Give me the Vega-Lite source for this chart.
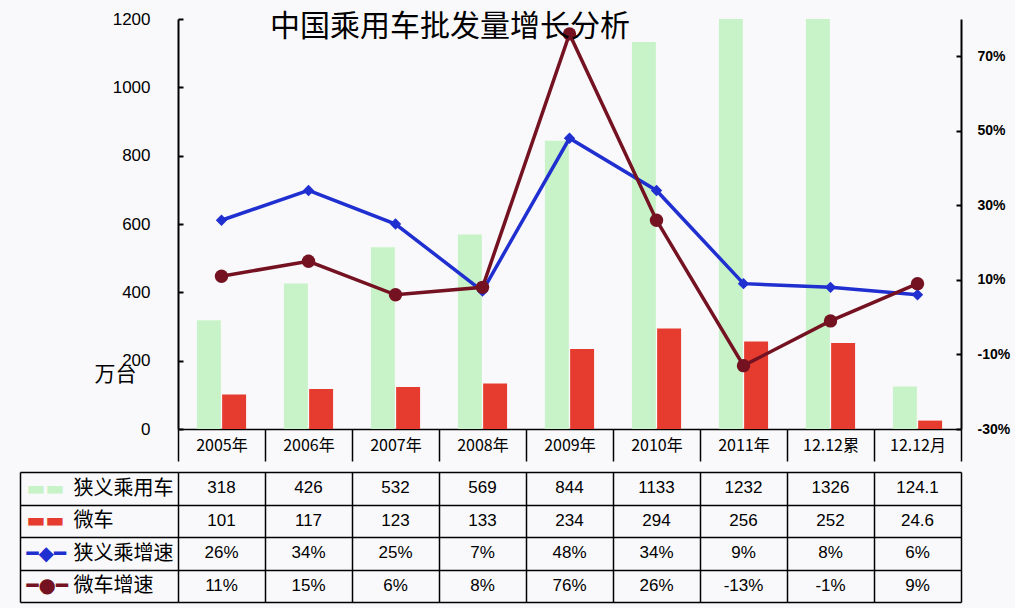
{
  "$schema": "https://vega.github.io/schema/vega-lite/v6.json",
  "background": "#f9f9fb",
  "padding": {"left": 19, "top": 10, "right": 5, "bottom": 5},
  "autosize": {"type": "pad"},
  "config": {
    "view": {"stroke": null},
    "font": "Liberation Sans",
    "locale": {"number": {"decimal": ".", "thousands": ",", "grouping": [3], "currency": ["", ""], "minus": "-"}},
    "axis": {"domainColor": "#000", "tickColor": "#000", "labelColor": "#000"}
  },
  "data": {"values": [
    {"cat": "2005年", "series": "狭义乘用车", "value": 318},
    {"cat": "2006年", "series": "狭义乘用车", "value": 426},
    {"cat": "2007年", "series": "狭义乘用车", "value": 532},
    {"cat": "2008年", "series": "狭义乘用车", "value": 569},
    {"cat": "2009年", "series": "狭义乘用车", "value": 844},
    {"cat": "2010年", "series": "狭义乘用车", "value": 1133},
    {"cat": "2011年", "series": "狭义乘用车", "value": 1232},
    {"cat": "12.12累", "series": "狭义乘用车", "value": 1326},
    {"cat": "12.12月", "series": "狭义乘用车", "value": 124.1},
    {"cat": "2005年", "series": "微车", "value": 101},
    {"cat": "2006年", "series": "微车", "value": 117},
    {"cat": "2007年", "series": "微车", "value": 123},
    {"cat": "2008年", "series": "微车", "value": 133},
    {"cat": "2009年", "series": "微车", "value": 234},
    {"cat": "2010年", "series": "微车", "value": 294},
    {"cat": "2011年", "series": "微车", "value": 256},
    {"cat": "12.12累", "series": "微车", "value": 252},
    {"cat": "12.12月", "series": "微车", "value": 24.6},
    {"cat": "2005年", "series": "狭义乘增速", "value": 0.26},
    {"cat": "2006年", "series": "狭义乘增速", "value": 0.34},
    {"cat": "2007年", "series": "狭义乘增速", "value": 0.25},
    {"cat": "2008年", "series": "狭义乘增速", "value": 0.07},
    {"cat": "2009年", "series": "狭义乘增速", "value": 0.48},
    {"cat": "2010年", "series": "狭义乘增速", "value": 0.34},
    {"cat": "2011年", "series": "狭义乘增速", "value": 0.09},
    {"cat": "12.12累", "series": "狭义乘增速", "value": 0.08},
    {"cat": "12.12月", "series": "狭义乘增速", "value": 0.06},
    {"cat": "2005年", "series": "微车增速", "value": 0.11},
    {"cat": "2006年", "series": "微车增速", "value": 0.15},
    {"cat": "2007年", "series": "微车增速", "value": 0.06},
    {"cat": "2008年", "series": "微车增速", "value": 0.08},
    {"cat": "2009年", "series": "微车增速", "value": 0.76},
    {"cat": "2010年", "series": "微车增速", "value": 0.26},
    {"cat": "2011年", "series": "微车增速", "value": -0.13},
    {"cat": "12.12累", "series": "微车增速", "value": -0.01},
    {"cat": "12.12月", "series": "微车增速", "value": 0.09}
  ]},
  "spacing": 0,
  "resolve": {"scale": {"x": "independent", "y": "independent", "color": "independent"}},
  "vconcat": [
    {
      "width": 783,
      "height": 410,
      "title": {"text": "中国乘用车批发量增长分析", "anchor": "start", "frame": "group", "dx": 92, "offset": -32, "font": "Noto Sans CJK SC", "fontSize": 30, "fontWeight": "normal", "color": "#000"},
      "encoding": {
        "x": {
          "field": "cat", "type": "nominal",
          "sort": ["2005年", "2006年", "2007年", "2008年", "2009年", "2010年", "2011年", "12.12累", "12.12月"],
          "scale": {"type": "band", "paddingInner": 0, "paddingOuter": 0},
          "axis": {"orient": "bottom", "title": null, "labelAngle": 0, "labelFontSize": 16, "labelFont": "Noto Sans CJK SC", "tickBand": "extent", "tickSize": 32, "tickWidth": 1.5, "labelPadding": -16, "labelBaseline": "middle", "domainWidth": 1.5}
        }
      },
      "layer": [
        {
          "transform": [{"filter": {"field": "series", "oneOf": ["狭义乘用车", "微车"]}}],
          "mark": {"type": "bar", "clip": true},
          "encoding": {
            "xOffset": {"field": "series", "type": "nominal", "sort": ["狭义乘用车", "微车"], "scale": {"paddingInner": 0.05, "paddingOuter": 0.75}},
            "y": {
              "field": "value", "type": "quantitative",
              "scale": {"domain": [0, 1200], "nice": false},
              "axis": {"orient": "left", "values": [0, 200, 400, 600, 800, 1000, 1200], "format": "d", "tickSize": -5, "tickWidth": 2, "domainWidth": 2, "labelPadding": 33, "labelFontSize": 17, "grid": false, "title": "万台", "titleAngle": 0, "titleX": -63, "titleY": 355, "titleFontSize": 21, "titleFont": "Noto Sans CJK SC", "titleFontWeight": "normal", "titleAlign": "center", "titleBaseline": "middle", "titleColor": "#000"}
            },
            "color": {"field": "series", "type": "nominal", "scale": {"domain": ["狭义乘用车", "微车"], "range": ["#c8f3c8", "#e63c2f"]}, "legend": null}
          }
        },
        {
          "transform": [{"filter": {"field": "series", "oneOf": ["狭义乘增速", "微车增速"]}}],
          "encoding": {
            "y": {
              "field": "value", "type": "quantitative",
              "scale": {"domain": [-0.3, 0.8], "nice": false, "zero": false},
              "axis": {"orient": "right", "values": [-0.3, -0.1, 0.1, 0.3, 0.5, 0.7], "format": ".0%", "tickSize": -5, "tickWidth": 2, "domainWidth": 2, "labelPadding": 21, "labelFontSize": 14, "labelFontWeight": "bold", "grid": false, "title": null}
            },
            "color": {"field": "series", "type": "nominal", "scale": {"domain": ["狭义乘增速", "微车增速"], "range": ["#1f2fd0", "#741222"]}, "legend": null}
          },
          "layer": [
            {"mark": {"type": "line", "strokeWidth": 3.5}},
            {
              "mark": {"type": "point", "filled": true, "opacity": 1},
              "encoding": {
                "shape": {"field": "series", "type": "nominal", "scale": {"domain": ["狭义乘增速", "微车增速"], "range": ["diamond", "circle"]}, "legend": null},
                "size": {"field": "series", "type": "nominal", "scale": {"domain": ["狭义乘增速", "微车增速"], "range": [130, 180]}, "legend": null}
              }
            }
          ]
        }
      ],
      "resolve": {"scale": {"y": "independent", "color": "independent"}}
    },
    {
      "width": 783,
      "height": 130,
      "layer": [
        {
          "encoding": {
            "x": {
              "field": "cat", "type": "nominal",
              "sort": ["2005年", "2006年", "2007年", "2008年", "2009年", "2010年", "2011年", "12.12累", "12.12月"],
              "scale": {"type": "band", "paddingInner": 0, "paddingOuter": 0},
              "axis": {"orient": "bottom", "labels": false, "ticks": false, "domain": false, "grid": true, "tickBand": "extent", "gridColor": "#000", "gridWidth": 1.5, "gridOpacity": 1, "title": null}
            },
            "y": {
              "field": "series", "type": "nominal",
              "scale": {"type": "band", "domain": ["狭义乘用车", "微车", "狭义乘增速", "微车增速"], "paddingInner": 0, "paddingOuter": 0},
              "axis": {"orient": "left", "offset": 158, "tickSize": -158, "tickBand": "extent", "tickColor": "#000", "tickWidth": 1.5, "grid": true, "gridColor": "#000", "gridWidth": 1.5, "gridOpacity": 1, "domain": true, "domainWidth": 1.5, "labelAlign": "left", "labelBaseline": "middle", "labelPadding": 105, "labelFontSize": 20, "labelFont": "Noto Sans CJK SC", "title": null}
            }
          },
          "layer": [
            {
              "transform": [{"filter": {"field": "series", "oneOf": ["狭义乘用车", "微车"]}}],
              "mark": {"type": "text", "fontSize": 17, "color": "#000"},
              "encoding": {"text": {"field": "value", "type": "nominal"}}
            },
            {
              "transform": [{"filter": {"field": "series", "oneOf": ["狭义乘增速", "微车增速"]}}],
              "mark": {"type": "text", "fontSize": 17, "color": "#000"},
              "encoding": {"text": {"field": "value", "type": "quantitative", "format": ".0%"}}
            }
          ]
        },
        {
          "mark": {"type": "text", "opacity": 0},
          "encoding": {
            "y": {
              "field": "series", "type": "nominal",
              "scale": {"type": "band", "domain": ["狭义乘用车", "微车", "狭义乘增速", "微车增速"], "paddingInner": 0, "paddingOuter": 0},
              "axis": {
                "orient": "left", "offset": 158, "tickSize": -158, "ticks": true, "tickOpacity": 0, "tickBand": "extent", "domain": false, "grid": false,
                "labelAlign": "left", "labelBaseline": "middle", "labelPadding": 152, "labelFontSize": 20, "labelFont": "DejaVu Sans",
                "labelExpr": "datum.value == '狭义乘增速' ? '━◆━' : datum.value == '微车增速' ? '━●━' : (datum.value == '狭义乘用车' || datum.value == '微车') ? '▬▬' : ''",
                "labelColor": {"condition": [
                  {"test": "datum.value == '狭义乘用车'", "value": "#c8f3c8"},
                  {"test": "datum.value == '微车'", "value": "#e63c2f"},
                  {"test": "datum.value == '狭义乘增速'", "value": "#1f2fd0"}
                ], "value": "#741222"},
                "title": null
              }
            },
            "text": {"value": ""}
          }
        }
      ],
      "resolve": {"scale": {"y": "independent"}}
    }
  ]
}
